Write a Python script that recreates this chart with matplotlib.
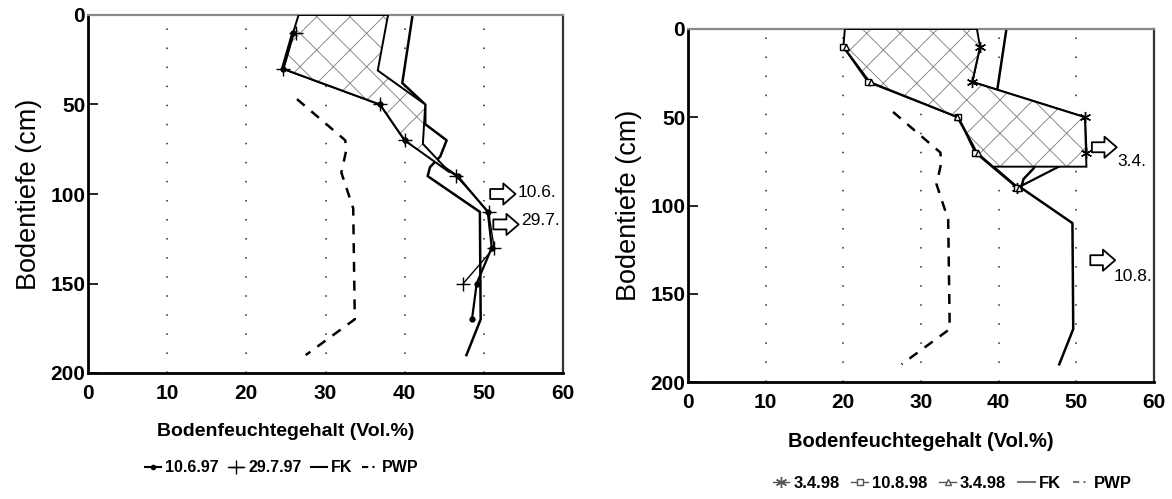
import numpy as np
import matplotlib
matplotlib.use("Agg")
import matplotlib.pyplot as plt
from matplotlib.lines import Line2D
from matplotlib.patches import Polygon

plt.rcParams['font.family'] = ['Liberation Sans', 'DejaVu Sans']
plt.rcParams['hatch.linewidth'] = 0.7
plt.rcParams['hatch.color'] = '#8a8a8a'

# ---------------- data: 1997 (left) ----------------
depth_1006 = [10, 30, 50, 70, 90, 110, 130, 150, 170]
m_10_6_97 = [25.9, 24.6, 36.9, 40.0, 46.7, 50.5, 51.0, 49.1, 48.5]
depth_2907 = [10, 30, 50, 70, 90, 110, 130, 150]
m_29_7_97 = [26.3, 24.6, 36.9, 40.0, 46.5, 50.6, 51.3, 47.4]

# hatched range 1997 (dry edge / wet edge)
h97_dry_depth = [0, 10, 30, 50, 70, 88]
h97_dry = [26.6, 25.9, 24.6, 36.9, 40.0, 45.7]
h97_wet_depth = [0, 31, 50, 72, 88]
h97_wet = [37.9, 36.6, 42.6, 42.3, 45.7]

# ---------------- data: 1998 (right) ----------------
depth_98 = [10, 30, 50, 70, 90]
m_3_4_98a = [37.6, 36.6, 51.1, 51.3, 42.4]
m_10_8_98 = [20.0, 23.2, 34.8, 37.0, 42.4]
m_3_4_98b = [20.3, 23.5, 34.6, 37.3, 42.6]

h98_wet_depth = [0, 10, 30, 50, 78]
h98_wet = [37.2, 37.6, 36.6, 51.1, 51.3]
h98_dry_depth = [0, 10, 30, 50, 70, 90]
h98_dry = [20.2, 20.0, 23.4, 34.8, 37.2, 42.4]
h98_cut = 78

# ---------------- soil constants ----------------
fk_depth = [0, 38, 50, 61, 70, 79, 85, 90, 110, 170, 190]
fk = [41.0, 39.7, 42.6, 42.6, 45.3, 44.5, 43.2, 42.9, 49.5, 49.6, 47.8]
pwp_depth = [47, 70, 76, 88, 108, 170, 190]
pwp = [26.4, 32.5, 32.6, 32.0, 33.5, 33.7, 27.5]

xticks = [0, 10, 20, 30, 40, 50, 60]
yticks = [0, 50, 100, 150, 200]

W, H = 1172, 499
fig = plt.figure(figsize=(W / 100, H / 100), dpi=100)
axL = fig.add_axes([88 / W, 1 - 373 / H, 475 / W, 358 / H])
axR = fig.add_axes([688 / W, 1 - 382 / H, 466 / W, 353 / H])


def style(ax, xlab_size):
    ax.set_xlim(0, 60)
    ax.set_ylim(200, 0)
    ax.set_xticks(xticks)
    ax.set_yticks(yticks)
    ax.tick_params(axis='y', direction='in', length=7, width=1.2, pad=2,
                   labelsize=15)
    ax.tick_params(axis='x', length=0, pad=8, labelsize=15)
    for lab in ax.get_xticklabels() + ax.get_yticklabels():
        lab.set_fontweight('bold')
    for x in xticks[1:-1]:
        ax.axvline(x, color='#555555', lw=1.4, ls=(0, (0.8, 9)), zorder=1)
    for s in ['left', 'bottom']:
        ax.spines[s].set_linewidth(2.0)
        ax.spines[s].set_color('black')
    ax.spines['top'].set_linewidth(1.6)
    ax.spines['top'].set_color('#888888')
    ax.spines['right'].set_linewidth(1.6)
    ax.spines['right'].set_color('#333333')
    ax.set_xlabel('Bodenfeuchtegehalt (Vol.%)', fontsize=xlab_size,
                  fontweight='bold', labelpad=14)
    ax.set_ylabel('Bodentiefe (cm)', fontsize=19.5, labelpad=6)
    # soil constants
    ax.plot(fk, fk_depth, color='black', lw=1.8, zorder=2)
    ax.plot(pwp, pwp_depth, color='black', lw=1.8, ls=(0, (4, 3.5)), zorder=2)


def hatch_poly(ax, dry_d, dry_v, wet_d, wet_v, cut=None):
    if cut is None:
        pts = list(zip(wet_v, wet_d)) + list(zip(dry_v, dry_d))[::-1]
    else:
        xc = np.interp(cut, dry_d, dry_v)
        dry = [(v, d) for v, d in zip(dry_v, dry_d) if d < cut]
        pts = list(zip(wet_v, wet_d)) + [(xc, cut)] + dry[::-1]
    ax.add_patch(Polygon(pts, closed=True, facecolor='white', edgecolor='#8a8a8a',
                         hatch='x', lw=0, zorder=3))
    ax.add_patch(Polygon(pts, closed=True, fill=False, edgecolor='black',
                         lw=1.4, zorder=4))


def arrow(ax, x0, x1, d, label, tx, td):
    ax.annotate('', xy=(x1, d), xytext=(x0, d), zorder=6,
                arrowprops=dict(arrowstyle='simple,head_length=0.55,head_width=0.95,tail_width=0.45',
                                fc='white', ec='black', lw=1.3, mutation_scale=16,
                                shrinkA=0, shrinkB=0))
    ax.text(tx, td, label, fontsize=12.5, va='center', ha='left', zorder=6)


# ---------------- left panel ----------------
style(axL, 14)
axL.xaxis.set_label_coords((286 - 88) / 475, -0.14)
axL.plot(m_10_6_97, depth_1006, color='black', lw=1.6, zorder=2)
axL.plot(m_29_7_97, depth_2907, color='black', lw=1.0, zorder=2)
hatch_poly(axL, h97_dry_depth, h97_dry, h97_wet_depth, h97_wet)
axL.plot(m_10_6_97[:2], depth_1006[:2], color='black', lw=2.6, zorder=5)
axL.plot(m_10_6_97, depth_1006, ls='none', marker='o', ms=3.5, color='black', zorder=5)
axL.plot(m_29_7_97, depth_2907, ls='none', marker='+', ms=10, mew=1.0, color='black', zorder=5)
arrow(axL, 50.8, 54.0, 100, '10.6.', 54.3, 99)
arrow(axL, 51.2, 54.4, 117, '29.7.', 54.7, 115)

hL = [Line2D([], [], color='black', lw=1.5, marker='o', ms=3),
      Line2D([], [], color='black', lw=1.0, marker='+', ms=10),
      Line2D([], [], color='black', lw=1.5),
      Line2D([], [], color='black', lw=1.5, ls=(0, (3, 2, 1, 2)))]
fig.legend(hL, ['10.6.97', '29.7.97', 'FK', 'PWP'], loc='center',
           bbox_to_anchor=(282 / W, 1 - 468 / H), ncol=4, frameon=False,
           handlelength=1.0, handletextpad=0.25, columnspacing=0.6,
           prop=dict(size=11.5, weight='bold'))

# ---------------- right panel ----------------
style(axR, 14.5)
axR.plot(m_3_4_98a, depth_98, color='black', lw=1.6, zorder=2)
axR.plot(m_10_8_98, depth_98, color='black', lw=1.6, zorder=2)
axR.plot(m_3_4_98b, depth_98, color='black', lw=1.0, zorder=2)
hatch_poly(axR, h98_dry_depth, h98_dry, h98_wet_depth, h98_wet, cut=h98_cut)
axR.plot(m_3_4_98a, depth_98, ls='none', marker=(6, 2, 0), ms=8, mew=1.0, color='black', zorder=5)
axR.plot(m_10_8_98, depth_98, ls='none', marker='s', ms=4.5, mfc='white', mec='black', mew=1.0, zorder=5)
axR.plot(m_3_4_98b, depth_98, ls='none', marker='^', ms=4.5, mfc='white', mec='black', mew=1.0, zorder=5)
arrow(axR, 52.0, 55.2, 67, '3.4.', 55.3, 75)
arrow(axR, 51.8, 55.0, 131, '10.8.', 54.8, 140)

hR = [Line2D([], [], color='#555555', lw=1.0, marker=(6, 2, 0), ms=8),
      Line2D([], [], color='#555555', lw=1.0, marker='s', ms=4.5, mfc='white'),
      Line2D([], [], color='#555555', lw=1.0, marker='^', ms=4.5, mfc='white'),
      Line2D([], [], color='#777777', lw=1.5),
      Line2D([], [], color='#777777', lw=1.5, ls=(0, (3, 2, 1, 2)))]
fig.legend(hR, ['3.4.98', '10.8.98', '3.4.98', 'FK', 'PWP'], loc='center',
           bbox_to_anchor=(952 / W, 1 - 483 / H), ncol=5, frameon=False,
           handlelength=1.0, handletextpad=0.25, columnspacing=0.7,
           prop=dict(size=12, weight='bold'))

fig.savefig('out.png', dpi=100)
